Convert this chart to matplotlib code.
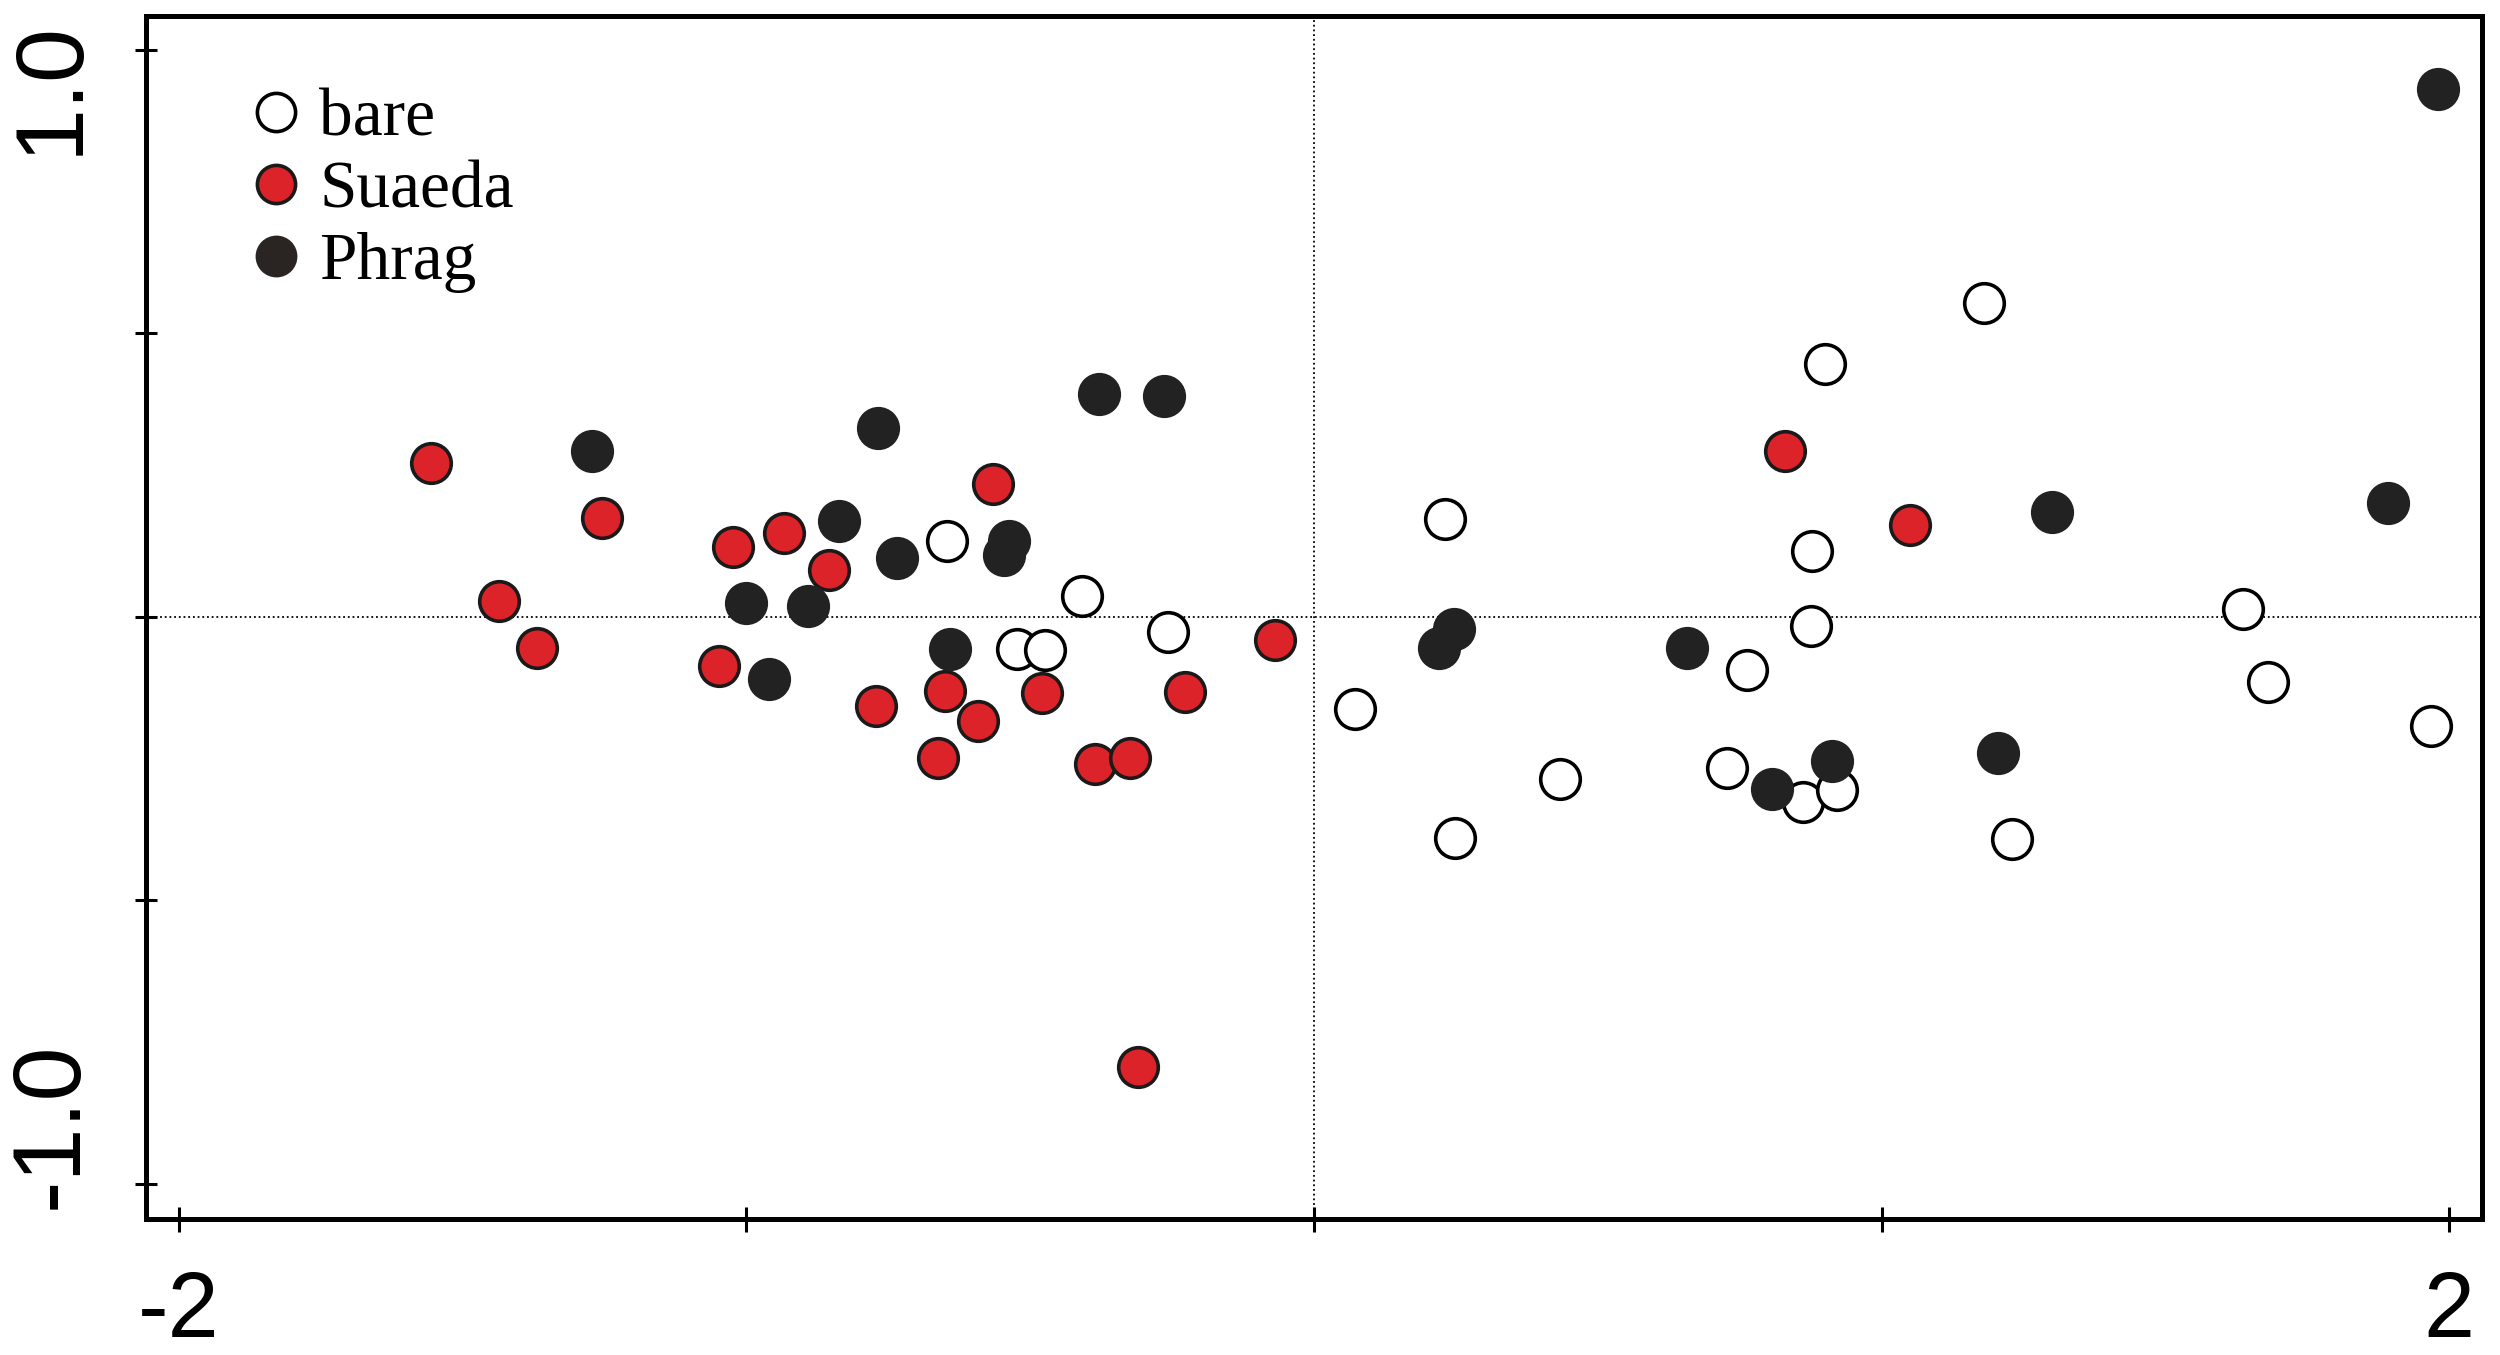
import matplotlib
matplotlib.use("Agg")
import matplotlib.pyplot as plt
from matplotlib.lines import Line2D
from matplotlib.transforms import blended_transform_factory

# ordination scores
bare_x = [-0.647, -0.409, -0.257, -0.523, -0.474, 0.230, 0.072, 0.248, 0.900, 0.878, 0.876,
          0.763, 0.433, 0.727, 0.861, 0.922, 1.181, 1.637, 1.681, 1.229, 1.968]
bare_y = [0.134, 0.037, -0.026, -0.056, -0.058, 0.173, -0.162, -0.390, 0.447, 0.116, -0.016,
          -0.093, -0.286, -0.267, -0.326, -0.305, 0.553, 0.014, -0.115, -0.391, -0.192]

suaeda_x = [-1.556, -1.436, -1.369, -1.255, -1.024, -0.933, -0.855, -1.048, -0.772, -0.650, -0.663,
            -0.566, -0.592, -0.480, -0.386, -0.325, -0.228, -0.069, -0.310, 0.830, 1.051]
suaeda_y = [0.272, 0.028, -0.055, 0.175, 0.123, 0.148, 0.082, -0.086, -0.157, -0.131, -0.249,
            0.235, -0.183, -0.134, -0.259, -0.249, -0.132, -0.041, -0.794, 0.293, 0.162]

phrag_x = [-1.272, -0.769, -0.837, -0.735, -1.001, -0.892, -0.641, -0.960, -0.379, -0.264, -0.537,
           -0.546, 0.247, 0.220, 0.657, 0.807, 0.912, 1.205, 1.300, 1.892, 1.981]
phrag_y = [0.293, 0.333, 0.169, 0.104, 0.025, 0.019, -0.056, -0.110, 0.393, 0.390, 0.134,
           0.109, -0.021, -0.055, -0.055, -0.303, -0.254, -0.240, 0.185, 0.201, 0.931]

group_names = ["bare", "Suaeda", "Phrag"]
x_ticks = [-2, -1, 0, 1, 2]
x_labels = ["-2", "", "", "", "2"]
y_ticks = [-1.0, -0.5, 0, 0.5, 1.0]

RED = "#dc2329"
DARK = "#222223"
MS = 28.5
MEW = 2.6

fig = plt.figure(figsize=(25, 13.55), dpi=100)
ax = fig.add_axes([146 / 2500, 1 - 1219 / 1355, 2336 / 2500, 1203 / 1355])

ax.axhline(0, color="black", lw=1.3, ls=(0, (1, 1.6)), zorder=1)
ax.axvline(0, color="black", lw=1.3, ls=(0, (1, 1.6)), zorder=1)

ax.plot(bare_x, bare_y, "o", ms=MS, mfc="white", mec="black", mew=MEW, ls="none", zorder=3)
ax.plot(suaeda_x, suaeda_y, "o", ms=MS, mfc=RED, mec="#1a1a1a", mew=MEW, ls="none", zorder=4)
ax.plot(phrag_x, phrag_y, "o", ms=MS, mfc=DARK, mec=DARK, mew=MEW, ls="none", zorder=5)

ax.set_xlim(-2.058, 2.058)
ax.set_ylim(-1.062, 1.06)

for s in ax.spines.values():
    s.set_linewidth(3.6)

ax.set_xticks(x_ticks)
ax.set_xticklabels(x_labels, fontsize=66, family="Liberation Sans")
ax.set_yticks(y_ticks)
ax.set_yticklabels([""] * len(y_ticks))
ax.tick_params(axis="x", direction="inout", length=18, width=2.2, pad=28)
ax.tick_params(axis="y", direction="inout", length=16, width=2.2)

# y labels sit slightly inside the range, as in the original
trans = blended_transform_factory(fig.transFigure, ax.transData)
ax.text(52 / 2500, 0.933, "1.0", transform=trans, rotation=90, ha="center", va="center",
        fontsize=70, family="Liberation Sans")
ax.text(52 / 2500, -0.897, "-1.0", transform=trans, rotation=90, ha="center", va="center",
        fontsize=70, family="Liberation Sans")

handles = [
    Line2D([], [], marker="o", ls="none", ms=MS - 1, mfc="white", mec="black", mew=MEW),
    Line2D([], [], marker="o", ls="none", ms=MS - 1, mfc=RED, mec="#1a1a1a", mew=MEW),
    Line2D([], [], marker="o", ls="none", ms=MS - 1, mfc="#2a2523", mec="#2a2523", mew=MEW),
]
ax.legend(handles, group_names, loc="upper left", bbox_to_anchor=(0.0445, 0.940),
          frameon=False, prop={"family": "Liberation Serif", "size": 48.5},
          handlelength=0.76, handletextpad=0.27, labelspacing=0.16,
          borderpad=0, borderaxespad=0)

fig.savefig("out.png", dpi=100)
